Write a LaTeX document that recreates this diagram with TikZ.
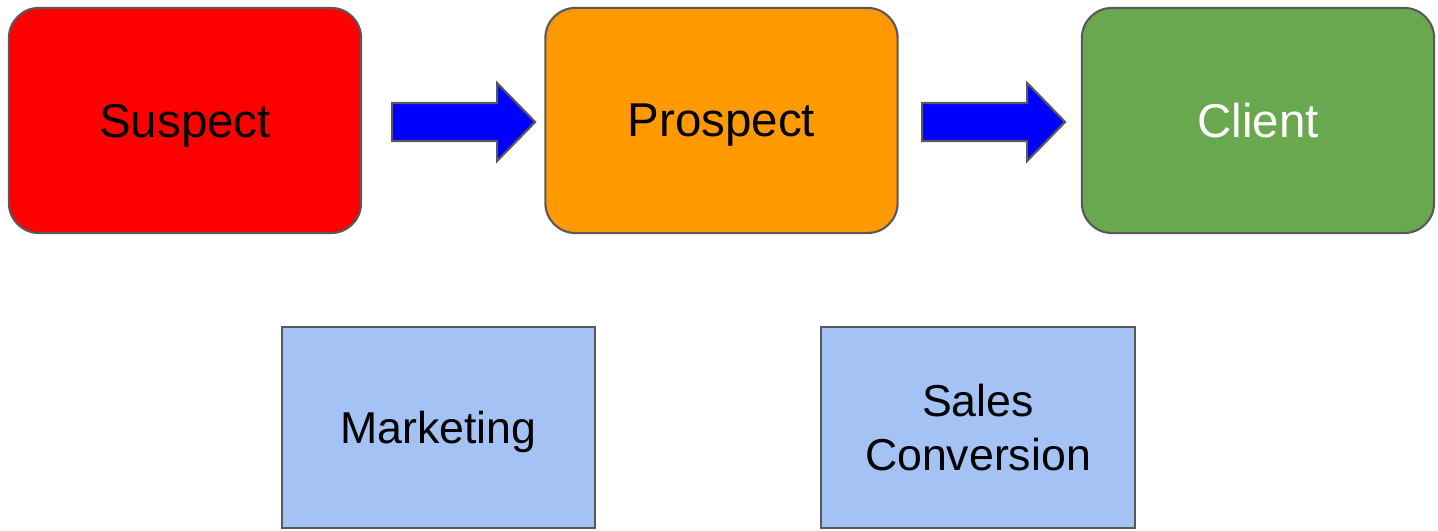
\documentclass[tikz,border=0pt]{standalone}
\usetikzlibrary{calc}
\usepackage{fontspec}
\setmainfont{Liberation Sans}
\definecolor{edge}{HTML}{595959}
\definecolor{suspectred}{HTML}{FF0000}
\definecolor{prospectorange}{HTML}{FF9900}
\definecolor{clientgreen}{HTML}{6AA84F}
\definecolor{stagebluegray}{HTML}{A4C2F4}
\definecolor{arrowblue}{HTML}{0000FF}
\begin{document}
\begin{tikzpicture}[x=0.01cm,y=-0.01cm,
  stage/.style={draw=edge,line width=0.6pt,rounded corners=0.3cm,
    minimum width=3.52cm,minimum height=2.25cm,inner sep=0pt,text depth=0pt,
    font=\fontsize{13.5}{16}\selectfont},
  activity/.style={draw=edge,line width=0.6pt,fill=stagebluegray,
    minimum width=3.13cm,minimum height=2.01cm,inner sep=0pt,align=center,
    text depth=0pt,font=\fontsize{12.7}{15.4}\selectfont},
  blockarrow/.pic={
    \draw[draw=edge,line width=0.6pt,fill=arrowblue,line join=miter]
      (0,-19) -- (105,-19) -- (105,-39) -- (143,0) -- (105,39)
      -- (105,19) -- (0,19) -- cycle;
  }]
\useasboundingbox (0,0) rectangle (1438,531);
% pipeline stages
\node[stage,fill=suspectred] (suspect) at (185,120.5) {Suspect};
\node[stage,fill=prospectorange] (prospect) at (721.5,120.5) {Prospect};
\node[stage,fill=clientgreen,text=white] (client) at (1258,120.5) {Client};
% block arrows between the stages
\coordinate (a1) at ($(suspect.east)+(30,1.5)$);
\coordinate (a2) at ($(prospect.east)+(23.5,1.5)$);
\pic at (a1) {blockarrow};
\pic at (a2) {blockarrow};
% activities that move a contact along
\node[activity] (marketing) at (438.5,427.5) {Marketing};
\node[activity] (sales) at (978,427.5) {Sales\\Conversion};
\end{tikzpicture}
\end{document}
